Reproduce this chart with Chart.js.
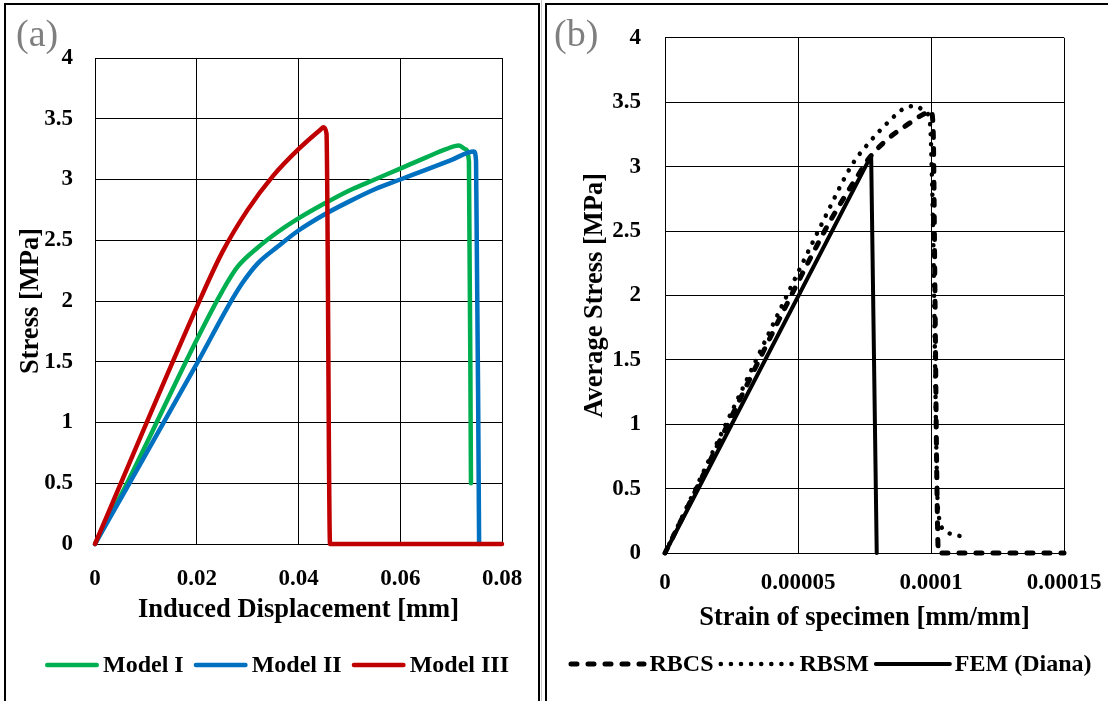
<!DOCTYPE html>
<html>
<head>
<meta charset="utf-8">
<script src="https://cdn.jsdelivr.net/npm/chart.js@4.4.1/dist/chart.umd.min.js"></script>
<style>
  html, body { margin: 0; padding: 0; background: #fff; }
  body { width: 1108px; height: 701px; position: relative; overflow: hidden; font-family: "Liberation Serif", serif; }
  .frame { position: absolute; border: 2px solid #000; border-bottom: none; }
  #frameA { left: 4px; top: 3px; width: 532px; height: 720px; }
  #frameB { left: 545px; top: 3px; width: 620px; height: 720px; border-right: none; }
  #sep { position: absolute; left: 541px; top: 0; width: 1px; height: 701px; background: #c8c8c8; }
  .wrap { position: absolute; top: 0; }
  .tag { position: absolute; color: #7f7f7f; font-size: 38px; line-height: 38px; }
</style>
</head>
<body>
<div class="frame" id="frameA"></div>
<div id="sep"></div>
<div class="frame" id="frameB"></div>
<div class="wrap" style="left:0;"><canvas id="chartA" width="580" height="701"></canvas></div>
<div class="wrap" style="left:541px;"><canvas id="chartB" width="620" height="701"></canvas></div>
<div class="tag" style="left:16px; top:14px;">(a)</div>
<div class="tag" style="left:554px; top:14px;">(b)</div>
<script>
// (a) stress vs induced displacement for the three models
const dispI   = [0, 0.0063, 0.0201, 0.0250, 0.0280, 0.0320, 0.0360, 0.0400, 0.0450, 0.0500, 0.0550, 0.0600, 0.0650, 0.0690, 0.0715, 0.0728, 0.0735, 0.0739];
const stressI = [0, 0.50, 1.69, 2.08, 2.28, 2.44, 2.57, 2.68, 2.80, 2.91, 3.00, 3.09, 3.18, 3.25, 3.28, 3.25, 3.15, 0.50];

const dispII   = [0, 0.0201, 0.0265, 0.0290, 0.0320, 0.0360, 0.0400, 0.0450, 0.0500, 0.0550, 0.0600, 0.0650, 0.0700, 0.0745, 0.0749, 0.0755];
const stressII = [0, 1.49, 1.98, 2.15, 2.31, 2.45, 2.58, 2.71, 2.82, 2.92, 3.00, 3.08, 3.16, 3.23, 3.15, 0];

const dispIII   = [0, 0.0201, 0.0250, 0.0300, 0.0350, 0.0400, 0.0443, 0.0449, 0.0455, 0.0462, 0.0800];
const stressIII = [0, 1.96, 2.40, 2.75, 3.03, 3.25, 3.41, 3.43, 3.38, 0, 0];

const xTicksA = ['0', '0.02', '0.04', '0.06', '0.08'];
const yTicks  = ['0', '0.5', '1', '1.5', '2', '2.5', '3', '3.5', '4'];

// (b) average stress vs strain of specimen
const strainRBCS = [0, 0.00006, 0.000065, 0.0000731, 0.0000769, 0.0000835, 0.0000907, 0.0000975, 0.0001, 0.0001008, 0.0001015, 0.0001022, 0.0001028, 0.000104, 0.00015];
const stressRBCS = [0, 2.50, 2.68, 2.95, 3.07, 3.21, 3.32, 3.41, 3.43, 3.30, 2.00, 0.56, 0, 0, 0];

const strainRBSM = [0, 0.00006, 0.0000705, 0.0000769, 0.0000832, 0.0000907, 0.0000945, 0.0000975, 0.0000995, 0.0001008, 0.0001015, 0.0001022, 0.0001028, 0.0001061, 0.00011, 0.000114];
const stressRBSM = [0, 2.60, 3.02, 3.19, 3.33, 3.46, 3.47, 3.43, 3.36, 2.50, 1.50, 0.60, 0.30, 0.16, 0.136, 0.12];

const strainFEM = [0, 0.0000775, 0.0000796];
const stressFEM = [0, 3.085, 0];

const xTicksB = ['0', '0.00005', '0.0001', '0.00015'];

const FONT = 'Liberation Serif';

function toPoints(xs, ys) {
    return xs.map((x, i) => ({ x: x, y: ys[i] }));
}

function series(label, xs, ys, color, width, dash, order, smooth) {
    return {
        label: label,
        data: toPoints(xs, ys),
        borderColor: color,
        backgroundColor: color,
        borderWidth: width,
        borderDash: dash,
        borderCapStyle: 'round',
        borderJoinStyle: 'round',
        cubicInterpolationMode: smooth ? 'monotone' : 'default',
        tension: 0,
        pointRadius: 0,
        fill: false,
        clip: 6,          // keep full line width where a curve runs along the axis
        order: order
    };
}

// legend row: a short stroke in each series' style followed by its name
const lineLegend = {
    id: 'lineLegend',
    afterDraw(chart, args, opts) {
        const ctx = chart.ctx;
        ctx.save();
        ctx.font = 'bold ' + opts.fontSize + 'px "' + FONT + '"';
        const sets = chart.data.datasets;
        const widths = sets.map(ds => ctx.measureText(ds.label).width);
        let total = opts.spacing * (sets.length - 1);
        widths.forEach(w => { total += opts.sample + opts.gap + w; });
        let x = opts.centerX - total / 2;
        sets.forEach((ds, i) => {
            const cap = ds.borderWidth / 2;
            ctx.beginPath();
            ctx.strokeStyle = ds.borderColor;
            ctx.lineWidth = ds.borderWidth;
            ctx.lineCap = 'round';
            ctx.setLineDash(ds.borderDash || []);
            ctx.moveTo(x + cap, opts.y);
            ctx.lineTo(x + opts.sample - cap, opts.y);
            ctx.stroke();
            ctx.setLineDash([]);
            x += opts.sample + opts.gap;
            ctx.fillStyle = '#000';
            ctx.textAlign = 'left';
            ctx.textBaseline = 'middle';
            ctx.fillText(ds.label, x, opts.y + 1);
            x += widths[i] + opts.spacing;
        });
        ctx.restore();
    }
};

function axisTitle(text, pad) {
    return { display: true, text: text, color: '#000', padding: pad,
             font: { family: FONT, size: 26.5, weight: 'bold' } };
}

function makeChart(canvasId, datasets, o) {
    const tickFont = { family: FONT, size: 23, weight: 'bold' };
    return new Chart(document.getElementById(canvasId), {
        type: 'scatter',
        data: { datasets: datasets },
        plugins: [lineLegend],
        options: {
            responsive: false,
            animation: false,
            showLine: true,
            layout: { padding: o.padding },
            plugins: {
                tooltip: { enabled: false },
                legend: { display: false },
                lineLegend: o.legend
            },
            scales: {
                x: {
                    type: 'linear',
                    min: 0, max: o.xMax,
                    ticks: {
                        stepSize: o.xStep, color: '#000', font: tickFont, padding: o.xTickPad,
                        maxRotation: 0,
                        callback: (v, i) => o.xLabels[i]
                    },
                    grid: { color: '#000', lineWidth: 1, drawTicks: false },
                    border: { color: '#000', width: 1 },
                    title: axisTitle(o.xTitle, { bottom: o.xTitlePad }),
                    afterFit: s => { s.height = o.xHeight; }
                },
                y: {
                    type: 'linear',
                    min: 0, max: 4,
                    ticks: {
                        stepSize: 0.5, color: '#000', font: tickFont, padding: o.yTickPad,
                        callback: (v, i) => yTicks[i]
                    },
                    grid: { color: '#000', lineWidth: 1, drawTicks: false },
                    border: { color: '#000', width: 1 },
                    title: axisTitle(o.yTitle, { top: o.yTitlePad }),
                    afterFit: s => { s.width = o.yWidth; }
                }
            }
        }
    });
}

makeChart('chartA', [
    series('Model I',   dispI,   stressI,   '#00b050', 4.5, [], 2, true),
    series('Model II',  dispII,  stressII,  '#0070c0', 4.5, [], 1, true),
    series('Model III', dispIII, stressIII, '#c00000', 4.5, [], 0, true)
], {
    padding: { left: 0, top: 58, right: 78, bottom: 57.5 },
    xMax: 0.08, xStep: 0.02, xLabels: xTicksA,
    xTitle: 'Induced Displacement [mm]', yTitle: 'Stress [MPa]',
    xHeight: 99.5, yWidth: 95,
    xTickPad: 21, yTickPad: 22, xTitlePad: 17, yTitlePad: 15,
    legend: { centerX: 277, y: 665, sample: 54, gap: 4, spacing: 10, fontSize: 24 }
});

makeChart('chartB', [
    series('RBCS',        strainRBCS, stressRBCS, '#000', 5,   [6, 11],  0, true),
    series('RBSM',        strainRBSM, stressRBSM, '#000', 4.5, [0.1, 10], 1, true),
    series('FEM (Diana)', strainFEM,  stressFEM,  '#000', 4,   [],       2, false)
], {
    padding: { left: 0, top: 33, right: 97, bottom: 58.5 },
    xMax: 0.00015, xStep: 0.00005, xLabels: xTicksB,
    xTitle: 'Strain of specimen [mm/mm]', yTitle: 'Average Stress [MPa]',
    xHeight: 89.5, yWidth: 124,
    xTickPad: 16, yTickPad: 24, xTitlePad: 8, yTitlePad: 38,
    legend: { centerX: 289, y: 664, sample: 78, gap: 3, spacing: 5, fontSize: 24 }
});
</script>
</body>
</html>
